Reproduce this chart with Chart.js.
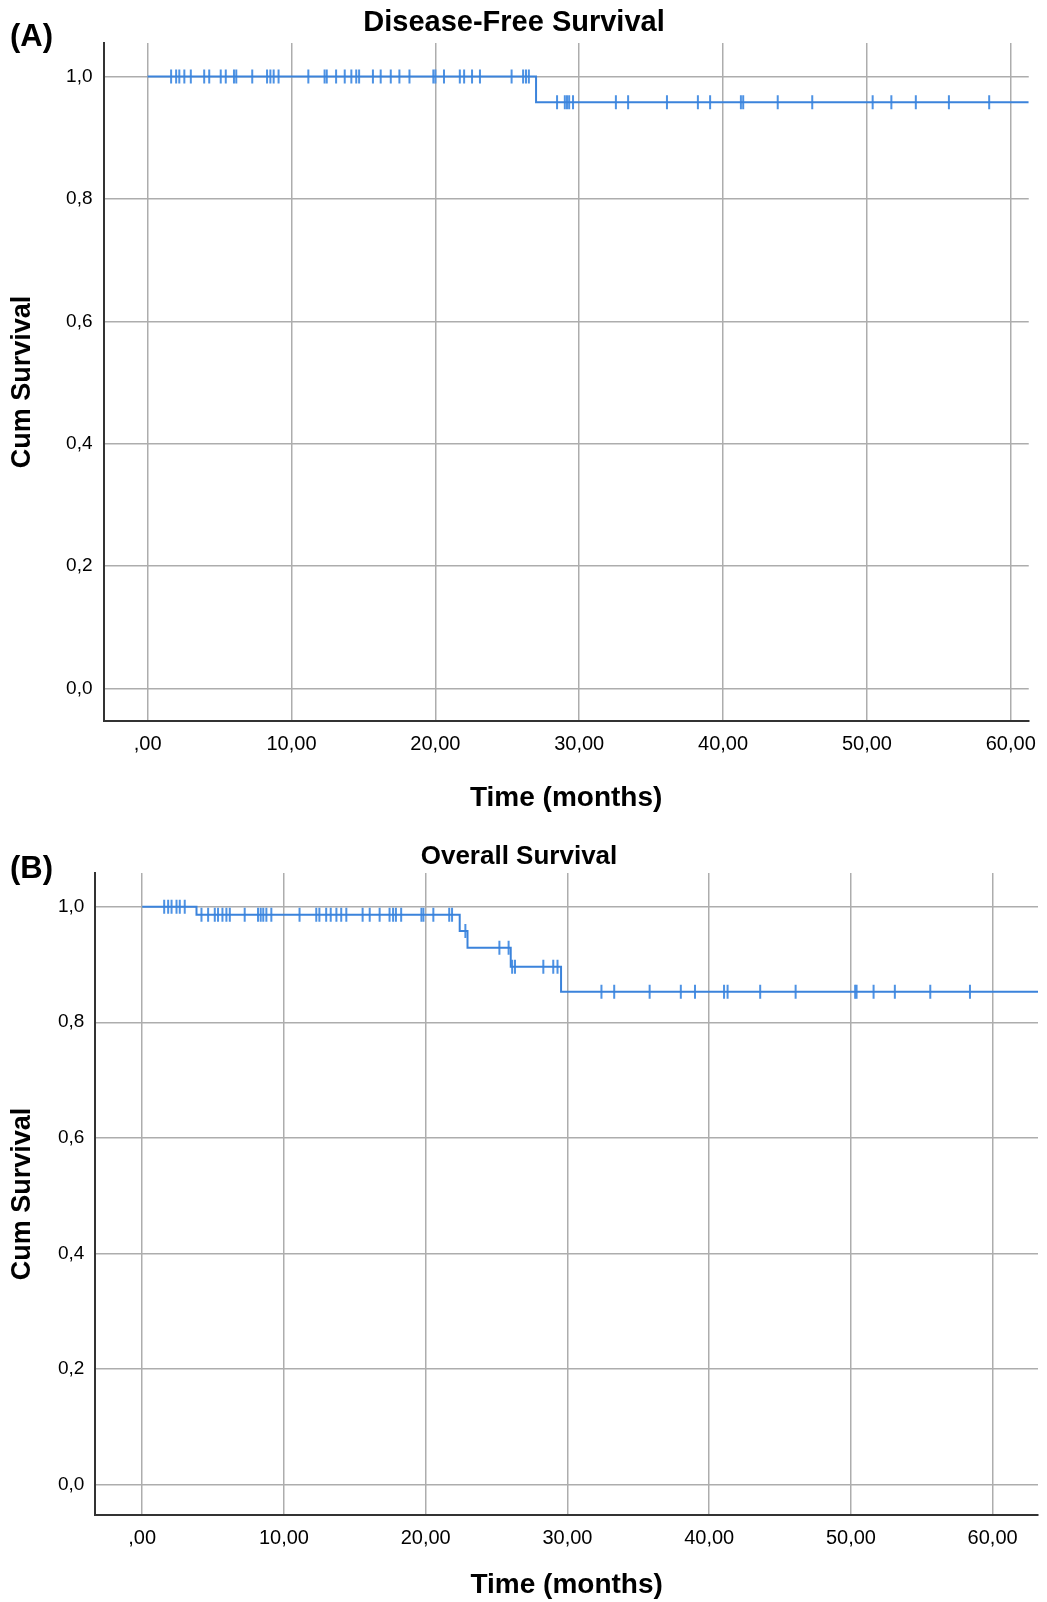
<!DOCTYPE html>
<html>
<head>
<meta charset="utf-8">
<title>Disease-Free and Overall Survival</title>
<script src="https://cdn.jsdelivr.net/npm/chart.js@4.4.1/dist/chart.umd.min.js"></script>
<style>
  body { margin: 0; background: #fff; }
  .panel { width: 1047px; }
  canvas { display: block; }
</style>
</head>
<body>
<div class="panel"><canvas id="dfsChart" width="1047" height="815"></canvas></div>
<div class="panel"><canvas id="osChart" width="1047" height="787"></canvas></div>
<script>
// Axis ticks (SPSS style, comma decimals)
var xTickValues = [0, 10, 20, 30, 40, 50, 60];
var xTickLabels = [',00', '10,00', '20,00', '30,00', '40,00', '50,00', '60,00'];
var yTickValues = [0, 0.2, 0.4, 0.6, 0.8, 1.0];
var yTickLabels = ['0,0', '0,2', '0,4', '0,6', '0,8', '1,0'];

// (A) Disease-free survival: event steps and censored times (months)
var dfsEventTimes = [27.0];
var dfsEventSurv = [0.958];
var dfsCensored = [1.63, 1.98, 2.2, 2.55, 3.0, 3.93, 4.28, 5.08, 5.43, 6.0, 6.16, 7.27,
    8.3, 8.53, 8.76, 9.1, 11.17, 12.3, 12.45, 13.1, 13.7, 14.16, 14.5, 14.7, 15.66,
    16.2, 16.9, 17.5, 18.2, 19.86, 20.0, 20.6, 21.7, 22.0, 22.55, 23.1, 25.3, 26.1,
    26.3, 26.5, 28.46, 29.0, 29.15, 29.3, 29.57, 32.55, 33.4, 36.1, 38.25, 39.1,
    41.24, 41.4, 43.8, 46.2, 50.4, 51.7, 53.4, 55.7, 58.5];
var dfsEnd = 61.25;

// (B) Overall survival
var osEventTimes = [3.83, 22.4, 22.95, 26.0, 29.55];
var osEventSurv = [0.986, 0.958, 0.929, 0.896, 0.853];
var osCensored = [1.55, 1.83, 2.07, 2.42, 2.65, 3.0, 4.18, 4.65, 5.12, 5.35, 5.66, 5.94,
    6.18, 7.23, 8.17, 8.36, 8.54, 8.76, 9.11, 11.1, 12.28, 12.5, 12.98, 13.3, 13.7,
    14.04, 14.4, 15.55, 16.05, 16.75, 17.45, 17.7, 17.9, 18.27, 19.7, 19.84, 20.54,
    21.66, 21.86, 22.8, 25.2, 25.85, 26.1, 26.3, 28.3, 29.0, 29.3, 32.4, 33.3, 35.8,
    38.0, 39.0, 41.05, 41.3, 43.6, 46.1, 50.3, 50.4, 51.6, 53.1, 55.6, 58.4];
var osEnd = 63.2;

var FONT = '"Liberation Sans", Arial, sans-serif';
var LINE_BLUE = '#3b83db';
var TICK_BLUE = '#4d92e4';
var GRID_GREY = '#adadad';

Chart.defaults.font.family = FONT;
Chart.defaults.color = '#000';

// survival level at time t (step function)
function survivalAt(times, surv, t) {
    var s = 1;
    for (var i = 0; i < times.length; i++) {
        if (times[i] <= t) s = surv[i];
    }
    return s;
}

function stepPoints(times, surv, end) {
    var pts = [{ x: 0, y: 1 }];
    for (var i = 0; i < times.length; i++) {
        pts.push({ x: times[i], y: surv[i] });
    }
    pts.push({ x: end, y: surv[surv.length - 1] });
    return pts;
}

function censorPoints(times, surv, censored) {
    return censored.map(function (t) {
        return { x: t, y: survivalAt(times, surv, t) };
    });
}

// Title and panel letter drawn at fixed spots
var panelText = {
    id: 'panelText',
    afterDraw: function (chart, args, opts) {
        var ctx = chart.ctx;
        ctx.save();
        ctx.fillStyle = '#000';
        ctx.textBaseline = 'middle';
        ctx.textAlign = 'center';
        ctx.font = 'bold ' + opts.titleSize + 'px ' + FONT;
        ctx.fillText(opts.title, opts.titleX, opts.titleY);
        ctx.textAlign = 'left';
        ctx.font = 'bold 31px ' + FONT;
        ctx.fillText(opts.label, opts.labelX, opts.labelY);
        ctx.restore();
    }
};

function makeChart(id, cfg) {
    var ctx = document.getElementById(id).getContext('2d');
    return new Chart(ctx, {
        type: 'line',
        data: {
            datasets: [{
                data: stepPoints(cfg.times, cfg.surv, cfg.end),
                stepped: true,
                borderColor: LINE_BLUE,
                borderWidth: 2,
                pointRadius: 0,
                fill: false
            }, {
                type: 'scatter',
                data: censorPoints(cfg.times, cfg.surv, cfg.censored),
                showLine: false,
                pointStyle: 'line',
                rotation: 90,
                pointRadius: 7,
                borderColor: TICK_BLUE,
                borderWidth: 2
            }]
        },
        options: {
            responsive: false,
            animation: false,
            events: [],
            layout: { padding: { top: cfg.padTop, right: cfg.padRight, left: 0, bottom: 0 } },
            plugins: {
                legend: { display: false },
                tooltip: { enabled: false },
                panelText: cfg.text
            },
            scales: {
                x: {
                    type: 'linear',
                    min: cfg.xMin,
                    max: cfg.xMax,
                    afterBuildTicks: function (scale) {
                        scale.ticks = xTickValues.map(function (v) { return { value: v }; });
                    },
                    afterFit: function (scale) { scale.height = cfg.xAxisHeight; },
                    ticks: {
                        autoSkip: false,
                        maxRotation: 0,
                        padding: 11,
                        font: { size: 20 },
                        color: '#000',
                        callback: function (value, index) { return xTickLabels[index]; }
                    },
                    grid: { color: GRID_GREY, lineWidth: 1.5, drawTicks: false },
                    border: { display: true, color: '#333', width: 2 },
                    title: {
                        display: true,
                        text: 'Time (months)',
                        font: { size: 28, weight: 'bold' },
                        color: '#000',
                        padding: { top: 0, bottom: cfg.xTitlePad }
                    }
                },
                y: {
                    type: 'linear',
                    min: cfg.yMin,
                    max: cfg.yMax,
                    afterBuildTicks: function (scale) {
                        scale.ticks = yTickValues.map(function (v) { return { value: v }; });
                    },
                    afterFit: function (scale) { scale.width = cfg.yAxisWidth; },
                    ticks: {
                        padding: 11,
                        font: { size: 19 },
                        color: '#000',
                        callback: function (value, index) { return yTickLabels[index]; }
                    },
                    grid: { color: GRID_GREY, lineWidth: 1.5, drawTicks: false },
                    border: { display: true, color: '#333', width: 2 },
                    title: {
                        display: true,
                        text: 'Cum Survival',
                        font: { size: 27, weight: 'bold' },
                        color: '#000',
                        padding: { top: 6, bottom: 0 }
                    }
                }
            }
        },
        plugins: [panelText]
    });
}

makeChart('dfsChart', {
    times: dfsEventTimes, surv: dfsEventSurv, censored: dfsCensored, end: dfsEnd,
    xMin: -3.07, xMax: 61.25, yMin: -0.0534, yMax: 1.0549,
    padTop: 43, padRight: 11, yAxisWidth: 103.5, xAxisHeight: 94, xTitlePad: 0,
    text: { title: 'Disease-Free Survival', titleSize: 29, titleX: 514, titleY: 23,
            label: '(A)', labelX: 10, labelY: 37 }
});

makeChart('osChart', {
    times: osEventTimes, surv: osEventSurv, censored: osCensored, end: osEnd,
    xMin: -3.31, xMax: 63.2, yMin: -0.053, yMax: 1.0584,
    padTop: 58, padRight: 7, yAxisWidth: 95.3, xAxisHeight: 87, xTitlePad: 0,
    text: { title: 'Overall Survival', titleSize: 26, titleX: 519, titleY: 42,
            label: '(B)', labelX: 10, labelY: 54 }
});
</script>
</body>
</html>
